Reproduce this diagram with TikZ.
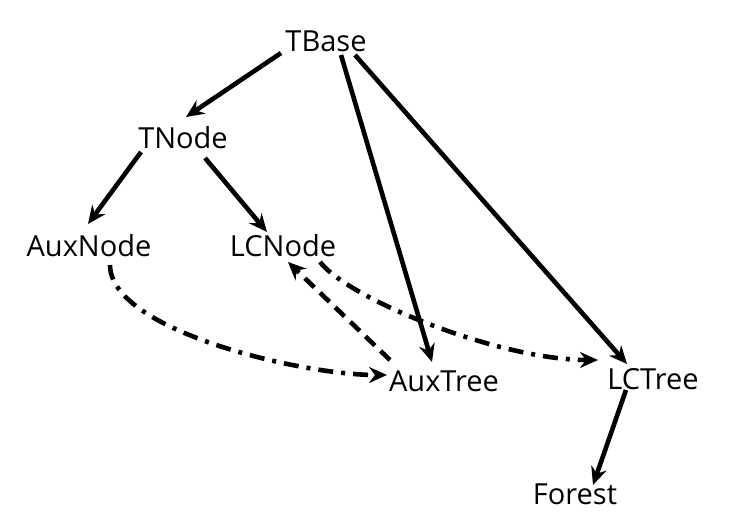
\documentclass[tikz,border=0pt]{standalone}
\usepackage{fontspec}
\setmainfont{Open Sans}
\usetikzlibrary{arrows.meta,calc}
\tikzset{
  lbl/.style={inner sep=0pt, text height=21pt, text depth=0pt, font=\fontsize{29}{34}\selectfont},
  arr/.style={line width=4.6pt, -{Stealth[length=18pt,width=16pt,inset=6pt]}},
  dd/.style={arr, dash pattern=on 15pt off 8pt on 4pt off 8pt},
  ds/.style={arr, dash pattern=on 13pt off 8pt},
}
\begin{document}
\begin{tikzpicture}[x=1pt,y=-1pt]
\useasboundingbox (0,0) rectangle (731,532);
\node[lbl] (TBase) at (326,41) {TBase};
\node[lbl] (TNode) at (183,138) {TNode};
\node[lbl] (AuxNode) at (89,246) {AuxNode};
\node[lbl] (LCNode) at (283,246) {LCNode};
\node[lbl] (AuxTree) at (444,381) {AuxTree};
\node[lbl] (LCTree) at (653,379) {LCTree};
\node[lbl] (Forest) at (575,494) {Forest};
\draw[arr] ($(TBase)+(-45,12)$) -- ($(TNode)+(3,-21)$);
\draw[arr] ($(TBase)+(15,14)$) -- ($(AuxTree)+(-12,-19)$);
\draw[arr] ($(TBase)+(29,14)$) -- ($(LCTree)+(-26,-15)$);
\draw[arr] ($(TNode)+(-42,14)$) -- ($(AuxNode)+(-1,-22)$);
\draw[arr] ($(TNode)+(22,20)$) -- ($(LCNode)+(-16,-14)$);
\draw[arr] ($(LCTree)+(-27,11)$) -- ($(Forest)+(18,-9)$);
\draw[dd] ($(AuxNode)+(21,19)$) .. controls +(0,65) and +(-87,0) .. ($(AuxTree)+(-57,-6)$);
\draw[ds] ($(AuxTree)+(-54,-21)$) -- ($(LCNode)+(5,16)$);
\draw[dd] ($(LCNode)+(37,16)$) .. controls +(30,38) and +(-98,0) .. ($(LCTree)+(-55,-19)$);
\end{tikzpicture}
\end{document}
